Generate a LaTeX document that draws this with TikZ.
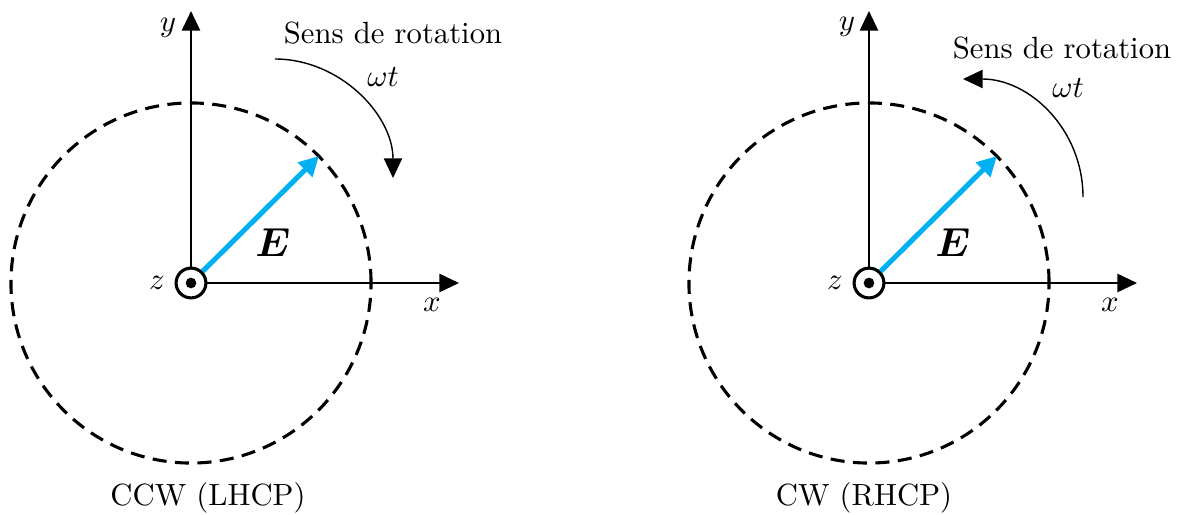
\documentclass[tikz,border=0pt]{standalone}
\usepackage{amsmath}
\usetikzlibrary{arrows.meta}
\definecolor{ebleu}{RGB}{0,176,240}
\tikzset{
  axe/.style={line width=0.7pt,-{Triangle[length=7pt,width=6.5pt]}},
  champ/.style={ebleu,line width=1.8pt,-{Triangle[length=7pt,width=7pt]}},
  sens/.style={line width=0.5pt,-{Triangle[length=7pt,width=6.5pt]}},
  cercle/.style={dash pattern=on 5pt off 3pt,line width=1.1pt},
  zpoint/.style={circle,draw,line width=1.1pt,minimum size=10.6pt,inner sep=0pt},
  lbl/.style={font=\fontsize{10.9}{13}\selectfont,inner sep=0pt}
}
\begin{document}
\begin{tikzpicture}[x=0.0125cm,y=-0.0125cm]
    \useasboundingbox (0,0) rectangle (1178,515);
    % gauche : CCW
    \node[zpoint] (oL) at (191,283) {};
    \fill (oL) circle (1.9pt);
    \coordinate (yL) at (191,11); \coordinate (xL) at (459,283);
    \coordinate (EL) at (319,156);
    \draw[cercle] (oL) circle[radius=2.25cm];
    \draw[axe] (oL.north) -- (yL);
    \draw[axe] (oL.east) -- (xL);
    \draw[champ] (oL.45) -- (EL);
    \coordinate (sL) at (275,59); \coordinate (aL) at (393,178);
    \draw[sens] (sL) .. controls (340,59) and (393,115) .. (aL);
    \node[lbl] (yLt) at (168,28) {$y$}; \node[lbl] (xLt) at (432,305) {$x$};
    \node[lbl] (zLt) at (157,283) {$z$};
    \node[lbl,font=\fontsize{13.5}{16}\selectfont] (ELt) at (273,243) {$\boldsymbol{E}$};
    \node[lbl] (rotL) at (393,33) {Sens de rotation};
    \node[lbl] (wtL) at (383,77) {$\omega t$};
    \node[lbl] (capL) at (208,498) {CCW (LHCP)};
    % droite : CW
    \node[zpoint] (oR) at (869,283) {};
    \fill (oR) circle (1.9pt);
    \coordinate (yR) at (869,11); \coordinate (xR) at (1137,283);
    \coordinate (ER) at (997,156);
    \draw[cercle] (oR) circle[radius=2.25cm];
    \draw[axe] (oR.north) -- (yR);
    \draw[axe] (oR.east) -- (xR);
    \draw[champ] (oR.45) -- (ER);
    \coordinate (sR) at (1083,197); \coordinate (aR) at (963,79);
    \draw[sens] (sR) .. controls (1083,130) and (1030,79) .. (aR);
    \node[lbl] (yRt) at (847,27) {$y$}; \node[lbl] (xRt) at (1110,305) {$x$};
    \node[lbl] (zRt) at (835,283) {$z$};
    \node[lbl,font=\fontsize{13.5}{16}\selectfont] (ERt) at (953,243) {$\boldsymbol{E}$};
    \node[lbl] (rotR) at (1062,48) {Sens de rotation};
    \node[lbl] (wtR) at (1068,88) {$\omega t$};
    \node[lbl] (capR) at (864,498) {CW (RHCP)};
\end{tikzpicture}
\end{document}
